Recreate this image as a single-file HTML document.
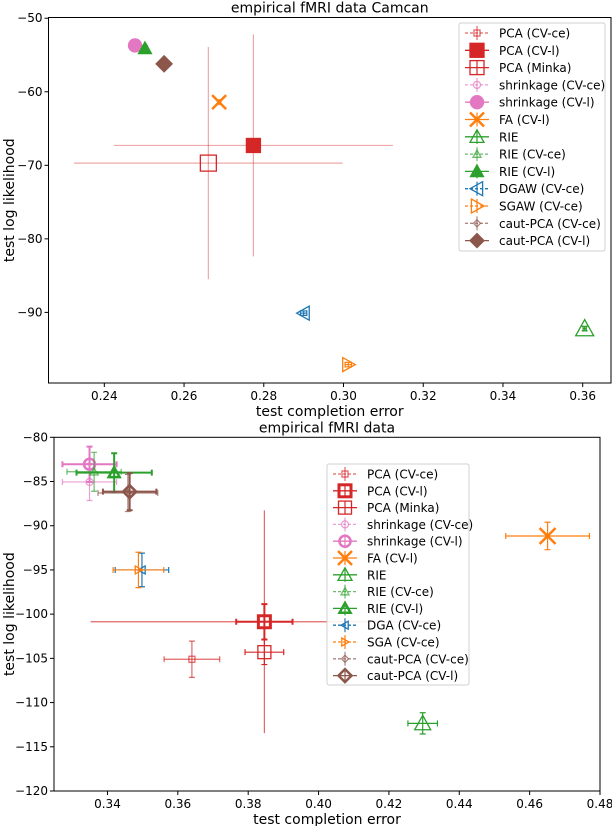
<!DOCTYPE html>
<html><head><meta charset="utf-8">
<style>
body{margin:0;background:#fff;}
svg{display:block;font-family:"DejaVu Sans","Liberation Sans",sans-serif;}
</style></head>
<body>
<svg id="chart" width="612" height="826" viewBox="0 0 612 826" xmlns="http://www.w3.org/2000/svg"></svg>
<script>
// ---- shared series styles (legend order) ----
const seriesKeys = ["pca-cv-ce","pca-cv-l","pca-minka","shrinkage-cv-ce","shrinkage-cv-l","fa-cv-l","rie","rie-cv-ce","rie-cv-l","dgaw-cv-ce","sgaw-cv-ce","caut-pca-cv-ce","caut-pca-cv-l"];
// ---- top chart data ----
const topLabels = ["PCA (CV-ce)","PCA (CV-l)","PCA (Minka)","shrinkage (CV-ce)","shrinkage (CV-l)","FA (CV-l)","RIE","RIE (CV-ce)","RIE (CV-l)","DGAW (CV-ce)","SGAW (CV-ce)","caut-PCA (CV-ce)","caut-PCA (CV-l)"];
const topX = [0.2774,0.2774,0.2661,0.2477,0.2477,0.2688,0.3605,0.2502,0.2502,0.2900,0.3012,0.2550,0.2550];
const topY = [-67.3,-67.3,-69.7,-53.7,-53.7,-61.4,-92.2,-54.1,-54.1,-90.1,-97.1,-56.2,-56.2];
const topXErr = [0.0005,0.035,0.0337,0.0004,0.0004,0.0004,0.0004,0.0004,0.0004,0.0008,0.0008,0.0004,0.0004];
const topYErr = [0.3,15.1,15.8,0.3,0.3,0.3,0.3,0.3,0.3,0.3,0.3,0.3,0.3];
const topXTicks = [0.24,0.26,0.28,0.30,0.32,0.34,0.36];
const topYTicks = [-50,-60,-70,-80,-90];
// ---- bottom chart data ----
const botLabels = ["PCA (CV-ce)","PCA (CV-l)","PCA (Minka)","shrinkage (CV-ce)","shrinkage (CV-l)","FA (CV-l)","RIE","RIE (CV-ce)","RIE (CV-l)","DGA (CV-ce)","SGA (CV-ce)","caut-PCA (CV-ce)","caut-PCA (CV-l)"];
const botX = [0.3640,0.3846,0.3846,0.3349,0.3349,0.4651,0.4296,0.3362,0.3419,0.3498,0.3488,0.3458,0.3463];
const botY = [-105.1,-100.86,-104.3,-85.05,-83.05,-91.16,-112.35,-83.9,-84.0,-95.0,-95.0,-86.3,-86.15];
const botXErr = [0.0079,0.008,0.0055,0.0077,0.0077,0.0119,0.0042,0.0077,0.0107,0.0076,0.0072,0.0085,0.0076];
const botYErr = [2.05,2.0,1.4,2.1,2.0,1.55,1.2,2.2,2.2,1.9,2.0,2.1,2.1];
const botLongXErr = [0,0.0494,0,0,0,0,0,0,0,0,0,0,0];
const botLongYErr = [0,12.6,0,0,0,0,0,0,0,0,0,0,0];
const botXTicks = [0.34,0.36,0.38,0.40,0.42,0.44,0.46,0.48];
const botYTicks = [-80,-85,-90,-95,-100,-105,-110,-115,-120];

const NS="http://www.w3.org/2000/svg";
const svg=document.getElementById('chart');
const C={red:"#d62728",pink:"#e377c2",green:"#2ca02c",orange:"#ff7f0e",blue:"#1f77b4",brown:"#8c564b"};
const styles=[
 {c:C.red,m:"sq",s:6,f:false,a:0.7,d:true},
 {c:C.red,m:"sq",s:14,f:true,a:1,d:false},
 {c:C.red,m:"sq",s:16,f:false,a:1,d:false},
 {c:C.pink,m:"ci",s:7,f:false,a:0.7,d:true},
 {c:C.pink,m:"ci",s:13,f:true,a:1,d:false},
 {c:C.orange,m:"x",s:14,f:false,a:1,d:false},
 {c:C.green,m:"tu",s:18,f:false,a:1,d:false},
 {c:C.green,m:"tu",s:8,f:false,a:0.7,d:true},
 {c:C.green,m:"tu",s:13,f:true,a:1,d:false},
 {c:C.blue,m:"tl",s:14,f:false,a:1,d:true},
 {c:C.orange,m:"tr",s:14,f:false,a:1,d:true},
 {c:C.brown,m:"di",s:7,f:false,a:0.7,d:true},
 {c:C.brown,m:"di",s:16,f:true,a:1,d:false}
];
const botStyleOverride={1:{f:false,s:12,sw:3},2:{s:13},4:{f:false,s:11,sw:2.5},8:{f:false,s:11,sw:2.5},12:{f:false,s:13,sw:2.5},6:{s:16},5:{s:16},9:{s:8},10:{s:8}};

function el(tag,attrs,parent){const e=document.createElementNS(NS,tag);for(const k in attrs)e.setAttribute(k,attrs[k]);(parent||svg).appendChild(e);return e;}
function marker(g,cx,cy,st){
  const s=st.s,h=s/2,col=st.c,fill=st.f?col:"none",sw=st.sw||1.3;
  const base={stroke:col,"stroke-width":sw,fill:fill,opacity:st.a};
  let e;
  if(st.m=="sq")e=el('rect',Object.assign({x:cx-h,y:cy-h,width:s,height:s},base),g);
  else if(st.m=="ci")e=el('circle',Object.assign({cx:cx,cy:cy,r:h},base),g);
  else if(st.m=="x"){e=el('path',Object.assign({d:`M${cx-h},${cy-h}L${cx+h},${cy+h}M${cx-h},${cy+h}L${cx+h},${cy-h}`},base,{"stroke-width":2.5}),g);}
  else if(st.m=="tu")e=el('path',Object.assign({d:`M${cx},${cy-h}L${cx+h},${cy+h*0.8}L${cx-h},${cy+h*0.8}Z`},base),g);
  else if(st.m=="tl")e=el('path',Object.assign({d:`M${cx-h},${cy}L${cx+h*0.8},${cy-h}L${cx+h*0.8},${cy+h}Z`},base),g);
  else if(st.m=="tr")e=el('path',Object.assign({d:`M${cx+h},${cy}L${cx-h*0.8},${cy-h}L${cx-h*0.8},${cy+h}Z`},base),g);
  else if(st.m=="di")e=el('path',Object.assign({d:`M${cx},${cy-h}L${cx+h},${cy}L${cx},${cy+h}L${cx-h},${cy}Z`},base),g);
  return e;
}
function text(x,y,t,attrs){const e=el('text',Object.assign({x:x,y:y},attrs||{}));e.textContent=t;return e;}

function panel(o){
  const g=el('g',{});
  
  
  const sx=v=>o.L+(v-o.x0)/(o.x1-o.x0)*(o.R-o.L);
  const sy=v=>o.B-(v-o.y0)/(o.y1-o.y0)*(o.B-o.T);
  // ticks
  o.xt.forEach(v=>{const px=sx(v);el('line',{x1:px,x2:px,y1:o.B,y2:o.B+4,stroke:"#000"},g);
    const t=text(px,o.B+17,v.toFixed(2),{"font-size":12,"text-anchor":"middle"});});
  o.yt.forEach(v=>{const py=sy(v);el('line',{x1:o.L-4,x2:o.L,y1:py,y2:py,stroke:"#000"},g);
    const t=text(o.L-6,py+4,"\u2212"+Math.abs(v),{"font-size":12,"text-anchor":"end"});});
  // series
  for(let i=0;i<o.X.length;i++){
    const st=Object.assign({},styles[i],(o.ov||{})[i]||{});
    const sg=el('g',{},g);
    
    
    const cx=sx(o.X[i]),cy=sy(o.Y[i]);
    if(o.LX&&o.LX[i]){
      el('line',{x1:sx(o.X[i]-o.LX[i]),x2:sx(o.X[i]+o.LX[i]),y1:cy,y2:cy,stroke:st.c,"stroke-width":1.2,opacity:0.7},sg);
      el('line',{x1:cx,x2:cx,y1:sy(o.Y[i]-o.LY[i]),y2:sy(o.Y[i]+o.LY[i]),stroke:st.c,"stroke-width":1.2,opacity:0.7},sg);
    }
    const big=o.XE[i]>0.02;
    const ew=big?1.2:(st.f||st.sw?2:1.2), ea=big?0.4:st.a;
    const xa=sx(o.X[i]-o.XE[i]),xb=sx(o.X[i]+o.XE[i]),ya=sy(o.Y[i]-o.YE[i]),yb=sy(o.Y[i]+o.YE[i]);
    el('line',{x1:xa,x2:xb,y1:cy,y2:cy,stroke:st.c,"stroke-width":ew,opacity:ea},sg);
    el('line',{x1:cx,x2:cx,y1:ya,y2:yb,stroke:st.c,"stroke-width":ew,opacity:ea},sg);
    if(!big){
      el('path',{d:`M${xa},${cy-3}V${cy+3}M${xb},${cy-3}V${cy+3}M${cx-3},${ya}H${cx+3}M${cx-3},${yb}H${cx+3}`,stroke:st.c,"stroke-width":ew,opacity:ea,fill:"none"},sg);
    }
    marker(sg,cx,cy,st);
  }
  // frame
  el('rect',{x:o.L,y:o.T,width:o.R-o.L,height:o.B-o.T,fill:"none",stroke:"#000","stroke-width":1},g);
  // titles
  const tt=text((o.L+o.R)/2,o.T-5,o.title,{"font-size":14,"text-anchor":"middle"});
  
  const xl=text((o.L+o.R)/2,o.B+33,"test completion error",{"font-size":14,"text-anchor":"middle"});
  
  const yl=text(0,0,"test log likelihood",{"font-size":14,"text-anchor":"middle",transform:`translate(${o.ylx},${(o.T+o.B)/2}) rotate(-90)`});
  
  // legend
  const lg=el('g',{},g);
  
  
  el('rect',{x:o.lx,y:o.ly,width:o.lw,height:o.lh,fill:"#fff",stroke:"#ccc",rx:2,opacity:0.9},lg);
  o.labels.forEach((lab,i)=>{
    const st=Object.assign({},styles[i],(o.ov||{})[i]||{});
    const yy=o.ly+10+i*o.ls, x0=o.lx+6;
    const eg=el('g',{},lg);
    
    
    el('line',{x1:x0,x2:x0+24,y1:yy,y2:yy,stroke:st.c,"stroke-width":1.3,"stroke-dasharray":st.d?"3,2":"",opacity:st.a},eg);
    el('line',{x1:x0+12,x2:x0+12,y1:yy-7,y2:yy+7,stroke:st.c,"stroke-width":1.2,opacity:st.a},eg);
    const ls=Object.assign({},st,{s:Math.min(st.s,14)});
    marker(eg,x0+12,yy,ls);
    text(x0+34,yy+4.5,lab,{"font-size":12});
  });
}
panel({name:"camcan-panel",L:48.5,R:611,T:17.5,B:383,x0:0.226,x1:0.3671,y0:-99.6,y1:-49.9,
  xt:topXTicks,yt:topYTicks,X:topX,Y:topY,XE:topXErr,YE:topYErr,title:"empirical fMRI data Camcan",ylx:14,
  labels:topLabels,lx:459,ly:23,lw:146,lh:228,ls:17.3});
panel({name:"fmri-panel",L:54,R:600,T:437.3,B:791,x0:0.3248,x1:0.48,y0:-120,y1:-80,
  xt:botXTicks,yt:botYTicks,X:botX,Y:botY,XE:botXErr,YE:botYErr,LX:botLongXErr,LY:botLongYErr,title:"empirical fMRI data",ylx:14,
  labels:botLabels,lx:327,ly:464,lw:142,lh:221,ls:16.8,ov:botStyleOverride});
</script>
</body></html>
